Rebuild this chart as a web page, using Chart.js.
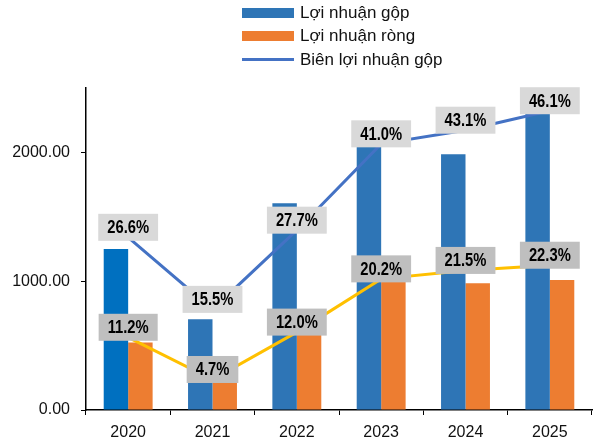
<!DOCTYPE html>
<html>
<head>
<meta charset="utf-8">
<script src="https://cdn.jsdelivr.net/npm/chart.js@4.4.1/dist/chart.umd.min.js"></script>
<style>
    html, body { margin: 0; padding: 0; background: #fff; }
    #wrap { position: relative; width: 595px; height: 446px; }
    #legend { position: absolute; left: 242px; top: 1px; font: 17px "Liberation Sans", Arial, sans-serif; color: #111; }
    .row { height: 23.5px; display: flex; align-items: center; }
    .sw { width: 52px; margin-right: 6px; }
</style>
</head>
<body>
<div id="wrap">
    <canvas id="canvas" width="595" height="446"></canvas>
    <div id="legend"></div>
</div>
<script>
const years = ['2020', '2021', '2022', '2023', '2024', '2025'];
const grossProfit = [1250, 705, 1605, 2090, 1985, 2560];
const netProfit = [525, 215, 650, 1010, 985, 1010];
const grossMargin = [26.6, 15.5, 27.7, 41.0, 43.1, 46.1];
const netMargin = [11.2, 4.7, 12.0, 20.2, 21.5, 22.3];
const yTicks = [0, 1000, 2000];

const tickFont = { family: '"Liberation Sans", Arial, sans-serif', size: 16 };

// percent labels in grey boxes above the line points
const boxLabels = {
    id: 'boxLabels',
    afterDatasetsDraw(chart) {
        const ctx = chart.ctx;
        chart.data.datasets.forEach((ds, i) => {
            if (!ds.boxColor) return;
            chart.getDatasetMeta(i).data.forEach((pt, j) => {
                const text = ds.data[j].toFixed(1) + '%';
                ctx.save();
                ctx.font = 'bold 18px "Liberation Sans", Arial, sans-serif';
                const tw = ctx.measureText(text).width * 0.82;
                const w = tw + 18, h = 27;
                const yc = pt.y - 10;
                ctx.fillStyle = ds.boxColor;
                ctx.fillRect(pt.x - w / 2, yc - h / 2, w, h);
                ctx.translate(pt.x, yc + 1);
                ctx.scale(0.82, 1);
                ctx.fillStyle = '#000';
                ctx.textAlign = 'center';
                ctx.textBaseline = 'middle';
                ctx.fillText(text, 0, 0);
                ctx.restore();
            });
        });
    }
};

const ctx = document.getElementById('canvas').getContext('2d');
const chart = new Chart(ctx, {
    data: {
        labels: years,
        datasets: [{
            type: 'line',
            label: 'Biên lợi nhuận gộp',
            data: grossMargin,
            yAxisID: 'y2',
            borderColor: '#4472C4',
            borderWidth: 3,
            pointRadius: 0,
            tension: 0,
            boxColor: '#D9D9D9',
            order: 1
        }, {
            type: 'line',
            label: 'Biên lợi nhuận ròng',
            data: netMargin,
            yAxisID: 'y2',
            borderColor: '#FFC000',
            borderWidth: 3,
            pointRadius: 0,
            tension: 0,
            boxColor: '#BFBFBF',
            order: 1
        }, {
            type: 'bar',
            label: 'Lợi nhuận gộp',
            data: grossProfit,
            backgroundColor: (c) => c.dataIndex === 0 ? '#0070C0' : '#2E75B6',
            legendColor: '#2E75B6',
            categoryPercentage: 0.58,
            barPercentage: 1,
            order: 2
        }, {
            type: 'bar',
            label: 'Lợi nhuận ròng',
            data: netProfit,
            backgroundColor: '#ED7D31',
            legendColor: '#ED7D31',
            categoryPercentage: 0.58,
            barPercentage: 1,
            order: 2
        }]
    },
    options: {
        responsive: false,
        animation: false,
        layout: { padding: { top: 88, right: 3, left: 0, bottom: 0 } },
        plugins: {
            legend: { display: false },
            tooltip: { enabled: false }
        },
        scales: {
            x: {
                afterFit: (s) => { s.height = 36; },
                border: { color: '#000', width: 1.5 },
                grid: { drawOnChartArea: false, drawTicks: true, tickLength: 5, color: '#000', offset: true },
                ticks: { color: '#111', font: tickFont, padding: 8 }
            },
            y: {
                min: 0,
                max: 2500,
                afterFit: (s) => { s.width = 86; },
                afterBuildTicks: (s) => { s.ticks = yTicks.map((v) => ({ value: v })); },
                border: { color: '#000', width: 1.5 },
                grid: { drawOnChartArea: false, drawTicks: true, tickLength: 5, color: '#000' },
                ticks: {
                    color: '#111',
                    font: tickFont,
                    padding: 11,
                    callback: (v) => Number(v).toFixed(2)
                }
            },
            y2: {
                display: false,
                min: 0,
                max: 49.6
            }
        }
    },
    plugins: [boxLabels]
});

// legend: bars first, then the gross margin line
const legendOrder = [2, 3, 0];
const legendEl = document.getElementById('legend');
legendOrder.forEach((i) => {
    const ds = chart.data.datasets[i];
    const row = document.createElement('div');
    row.className = 'row';
    const sw = document.createElement('div');
    sw.className = 'sw';
    if (ds.type === 'bar') {
        sw.style.height = '10px';
        sw.style.background = ds.legendColor;
    } else {
        sw.style.height = '3px';
        sw.style.background = ds.borderColor;
    }
    const txt = document.createElement('span');
    txt.textContent = ds.label;
    row.appendChild(sw);
    row.appendChild(txt);
    legendEl.appendChild(row);
});
</script>
</body>
</html>
